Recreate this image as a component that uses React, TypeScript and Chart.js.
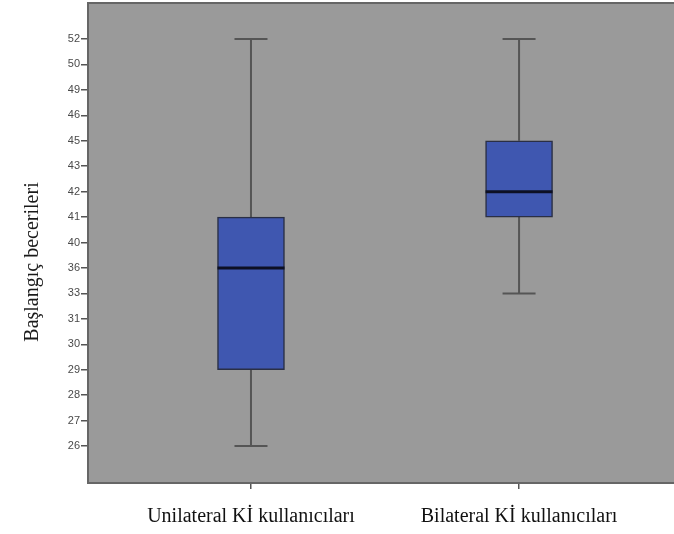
import React, { useEffect, useRef } from "react";
import { Chart, registerables } from "chart.js";

Chart.register(...registerables);

const categories = ["Unilateral Kİ kullanıcıları", "Bilateral Kİ kullanıcıları"];
const tickLabels = [26, 27, 28, 29, 30, 31, 33, 36, 40, 41, 42, 43, 45, 46, 49, 50, 52];
const minValues = [26, 33];
const q1Values = [29, 41];
const medianValues = [36, 42];
const q3Values = [41, 45];
const maxValues = [52, 52];
const yTitle = "Başlangıç becerileri";

const idx = (v: number) => tickLabels.indexOf(v);

const boxPlugin = {
  id: "boxExtras",
  beforeDraw(chart: any) {
    const { ctx, chartArea } = chart;
    ctx.save();
    ctx.fillStyle = "#9a9a9a";
    ctx.fillRect(chartArea.left, chartArea.top, chartArea.right - chartArea.left, chartArea.bottom - chartArea.top);
    ctx.strokeStyle = "#666666";
    ctx.lineWidth = 2;
    ctx.beginPath();
    ctx.moveTo(chartArea.left, chartArea.top);
    ctx.lineTo(chartArea.right, chartArea.top);
    ctx.stroke();
    ctx.restore();
  },
  beforeDatasetsDraw(chart: any) {
    const { ctx, scales } = chart;
    const xs = scales.x;
    const ys = scales.y;
    ctx.save();
    ctx.strokeStyle = "#555555";
    ctx.lineWidth = 2;
    categories.forEach((_, i) => {
      const cx = xs.getPixelForValue(i);
      const half = 16.5;
      const yMin = ys.getPixelForValue(idx(minValues[i]));
      const yMax = ys.getPixelForValue(idx(maxValues[i]));
      const yQ1 = ys.getPixelForValue(idx(q1Values[i]));
      const yQ3 = ys.getPixelForValue(idx(q3Values[i]));
      ctx.beginPath();
      ctx.moveTo(cx, yMax);
      ctx.lineTo(cx, yQ3);
      ctx.moveTo(cx, yQ1);
      ctx.lineTo(cx, yMin);
      ctx.moveTo(cx - half, yMax);
      ctx.lineTo(cx + half, yMax);
      ctx.moveTo(cx - half, yMin);
      ctx.lineTo(cx + half, yMin);
      ctx.stroke();
    });
    ctx.restore();
  },
  afterDatasetsDraw(chart: any) {
    const { ctx, scales } = chart;
    const xs = scales.x;
    const ys = scales.y;
    ctx.save();
    ctx.strokeStyle = "#0d1024";
    ctx.lineWidth = 3;
    categories.forEach((_, i) => {
      const cx = xs.getPixelForValue(i);
      const half = 33.5;
      const yMed = ys.getPixelForValue(idx(medianValues[i]));
      ctx.beginPath();
      ctx.moveTo(cx - half, yMed);
      ctx.lineTo(cx + half, yMed);
      ctx.stroke();
    });
    ctx.restore();
  },
  afterDraw(chart: any) {
    const { ctx } = chart;
    ctx.save();
    ctx.translate(33, 262);
    ctx.rotate(-Math.PI / 2);
    ctx.font = "20px 'Liberation Serif', 'Times New Roman', serif";
    ctx.fillStyle = "#1a1a1a";
    ctx.textAlign = "center";
    ctx.textBaseline = "middle";
    ctx.fillText(yTitle, 0, 0);
    ctx.restore();
  },
};

export default function App() {
  const canvasRef = useRef<HTMLCanvasElement | null>(null);

  useEffect(() => {
    document.body.style.margin = "0";
    const canvas = canvasRef.current;
    if (!canvas) return;
    const chart = new Chart(canvas, {
      type: "bar",
      data: {
        datasets: [
          {
            data: categories.map((_, i) => ({ x: i, y: [idx(q1Values[i]), idx(q3Values[i])] })) as any,
            backgroundColor: "#3f57b0",
            borderColor: "#2a2f45",
            borderWidth: 1.5,
            borderSkipped: false,
            barThickness: 67,
          },
        ],
      },
      options: {
        animation: false,
        responsive: false,
        maintainAspectRatio: false,
        layout: { padding: { top: 3, right: 0, left: 0, bottom: 0 } },
        plugins: { legend: { display: false }, tooltip: { enabled: false } },
        scales: {
          x: {
            type: "linear",
            min: -0.608,
            max: 1.578,
            offset: false,
            afterBuildTicks: (scale: any) => {
              scale.ticks = categories.map((_, i) => ({ value: i }));
            },
            afterFit: (scale: any) => {
              scale.height = 51;
              scale.paddingLeft = 0;
              scale.paddingRight = 0;
            },
            grid: { display: true, offset: false, drawOnChartArea: false, drawTicks: true, tickLength: 6, color: "#555555", lineWidth: 1.5 },
            border: { display: true, color: "#666666", width: 2 },
            ticks: {
              autoSkip: false,
              maxRotation: 0,
              padding: 16,
              color: "#111111",
              font: { family: "'Liberation Serif', 'Times New Roman', serif", size: 20 },
              callback: (v: any) => categories[Number(v)] ?? "",
            },
          },
          y: {
            type: "linear",
            min: -1.454,
            max: 17.415,
            afterBuildTicks: (scale: any) => {
              scale.ticks = tickLabels.map((_, i) => ({ value: i }));
            },
            afterFit: (scale: any) => {
              scale.width = 88;
              scale.paddingTop = 0;
              scale.paddingBottom = 0;
            },
            grid: { display: true, drawOnChartArea: false, drawTicks: true, tickLength: 7, color: "#555555", lineWidth: 1.5 },
            border: { display: true, color: "#666666", width: 2 },
            ticks: {
              autoSkip: false,
              padding: 1,
              color: "#4a4a4a",
              font: { family: "'Liberation Sans', Arial, sans-serif", size: 11 },
              callback: (v: any) => String(tickLabels[Number(v)] ?? ""),
            },
          },
        },
      },
      plugins: [boxPlugin],
    });
    return () => chart.destroy();
  }, []);

  return (
    <div style={{ width: 674, height: 534 }}>
      <canvas ref={canvasRef} width={674} height={534} style={{ display: "block" }} />
    </div>
  );
}
